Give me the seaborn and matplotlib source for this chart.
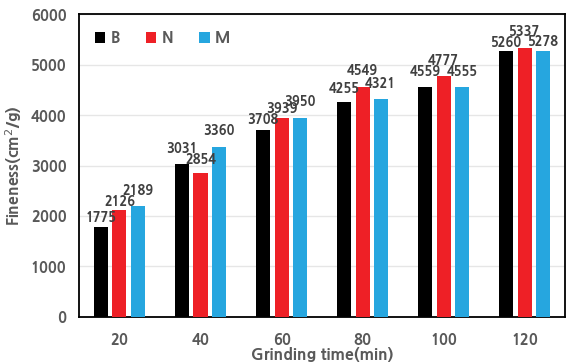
import matplotlib
matplotlib.use("Agg")
import matplotlib.pyplot as plt
import seaborn as sns
import pandas as pd

# data
times = ["20", "40", "60", "80", "100", "120"]
series = ["B", "N", "M"]
b_vals = [1775, 3031, 3708, 4255, 4559, 5260]
n_vals = [2126, 2854, 3939, 4549, 4777, 5337]
m_vals = [2189, 3360, 3950, 4321, 4555, 5278]
colors = ["#000000", "#ee2026", "#26a6df"]

# gap (in px) between bar top and its value label, as placed in the original
label_pads = [
    [3, 9, 4, 7, 9, 2],
    [2, 7, 3, 10, 9, 10],
    [9, 10, 10, 9, 9, 3],
]

df = pd.DataFrame({
    "time": times * 3,
    "series": ["B"] * 6 + ["N"] * 6 + ["M"] * 6,
    "fineness": b_vals + n_vals + m_vals,
})

sns.set_style("white")
plt.rcParams["font.family"] = ["NanumGothic", "DejaVu Sans"]
W = 800  # extra bold
gray = "#595959"

fig = plt.figure(figsize=(5.68, 3.63), dpi=100)
ax = fig.add_axes([0.139, 0.127, 0.856, 0.834])

sns.barplot(data=df, x="time", y="fineness", hue="series", order=times,
            hue_order=series, palette=colors, width=0.675, gap=0.23,
            saturation=1, linewidth=0, ax=ax, zorder=3)

# value labels on top of each bar
for cont, pads in zip(ax.containers, label_pads):
    for bar, pad in zip(cont, pads):
        h = bar.get_height()
        ax.annotate(f"{h:.0f}", (bar.get_x() + bar.get_width() / 2, h),
                    xytext=(0, pad * 0.72), textcoords="offset points",
                    ha="center", va="bottom", fontsize=9.3,
                    fontweight=W, color="#404040")

ax.set_ylim(0, 6000)
ax.set_yticks(range(0, 6001, 1000))
ax.yaxis.grid(True, color="#e6e6e6", linewidth=1, zorder=0)
ax.set_axisbelow(True)

for s in ax.spines.values():
    s.set_color("black")
    s.set_linewidth(1.3)

ax.tick_params(axis="y", length=0, labelsize=10.5, labelcolor=gray, pad=9)
ax.tick_params(axis="x", length=0, labelsize=10.5, labelcolor=gray, pad=11)
for lab in ax.get_xticklabels() + ax.get_yticklabels():
    lab.set_fontweight(W)

ax.set_xlabel("Grinding time(min)", fontsize=11.5, fontweight=W,
              color=gray, labelpad=0)
ax.set_ylabel("Fineness(cm$^2$/g)", fontsize=11.5, fontweight=W,
              color=gray, labelpad=5)

leg = ax.legend(loc="upper left", ncol=3, frameon=False, fontsize=11.5,
                handlelength=0.65, handleheight=0.65, handletextpad=0.35,
                columnspacing=1.6, borderaxespad=0.6)
for t in leg.get_texts():
    t.set_color(gray)
    t.set_fontweight(W)

fig.savefig("out.png", dpi=100)
